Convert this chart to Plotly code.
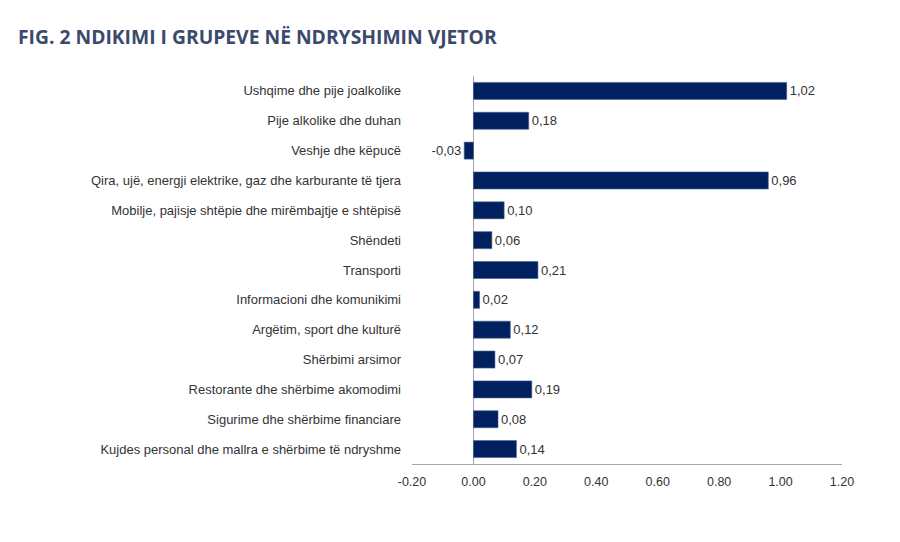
import plotly.graph_objects as go

categories = [
    "Ushqime dhe pije joalkolike",
    "Pije alkolike dhe duhan",
    "Veshje dhe këpucë",
    "Qira, ujë, energji elektrike, gaz dhe karburante të tjera",
    "Mobilje, pajisje shtëpie dhe mirëmbajtje e shtëpisë",
    "Shëndeti",
    "Transporti",
    "Informacioni dhe komunikimi",
    "Argëtim, sport dhe kulturë",
    "Shërbimi arsimor",
    "Restorante dhe shërbime akomodimi",
    "Sigurime dhe shërbime financiare",
    "Kujdes personal dhe mallra e shërbime të ndryshme",
]
values = [1.02, 0.18, -0.03, 0.96, 0.10, 0.06, 0.21, 0.02, 0.12, 0.07, 0.19, 0.08, 0.14]
tick_vals = [-0.2, 0.0, 0.2, 0.4, 0.6, 0.8, 1.0, 1.2]
tick_text = ["-0.20", "0.00", "0.20", "0.40", "0.60", "0.80", "1.00", "1.20"]

labels = [f"{v:.2f}".replace(".", ",") for v in values]

fig = go.Figure(go.Bar(
    x=values,
    y=categories,
    orientation="h",
    marker=dict(color="#002060", line=dict(color="#4a5f8a", width=0.6)),
    width=0.57,
    text=labels,
    textposition="outside",
    textfont=dict(family="Liberation Sans, Arial", size=13, color="#333333"),
    cliponaxis=False,
))

fig.update_layout(
    width=900, height=542,
    margin=dict(l=412, r=58, t=76, b=78),
    paper_bgcolor="white",
    plot_bgcolor="white",
    showlegend=False,
    font=dict(family="Liberation Sans, Arial", size=13, color="#333333"),
    title=dict(
        text="<b>FIG. 2 NDIKIMI I GRUPEVE NË NDRYSHIMIN VJETOR</b>",
        x=18 / 900, xanchor="left", xref="container",
        y=1 - 37 / 542, yanchor="middle", yref="container",
        font=dict(family="Open Sans", size=19.3, color="#3b4a6b"),
    ),
)

fig.update_xaxes(
    range=[-0.2, 1.2],
    tickvals=tick_vals,
    ticktext=tick_text,
    showgrid=False,
    zeroline=True,
    zerolinecolor="#a6a6a6",
    zerolinewidth=1,
    showline=True,
    linecolor="#a6a6a6",
    linewidth=1,
    ticks="",
    ticklabelstandoff=6,
    tickfont=dict(size=12.5, color="#333333"),
)
fig.update_yaxes(
    autorange="reversed",
    showgrid=False,
    showline=False,
    ticks="",
    ticklabelstandoff=10,
    tickfont=dict(size=13, color="#333333"),
)

fig.write_html("out.html")
